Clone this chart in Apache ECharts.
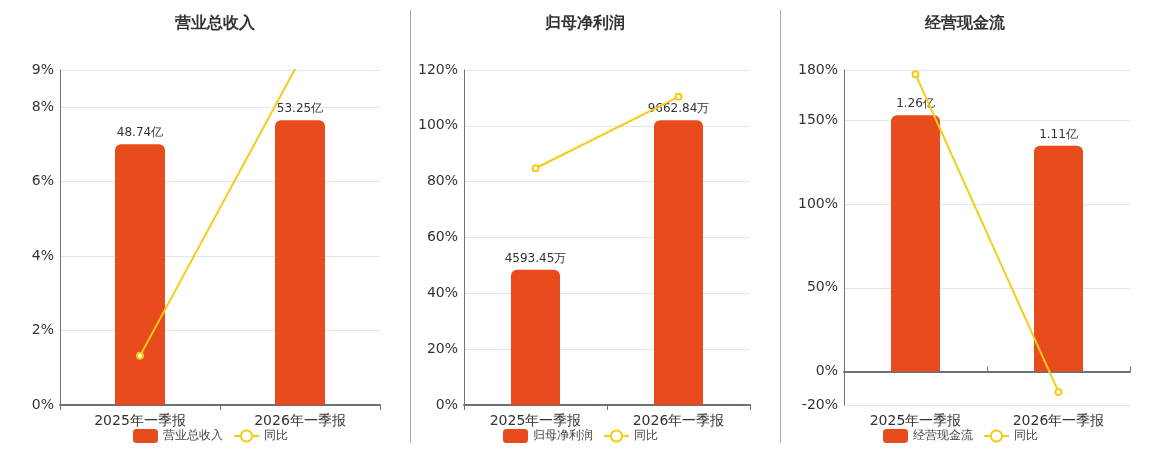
<!DOCTYPE html>
<html>
<head>
<meta charset="utf-8">
<script src="https://cdn.jsdelivr.net/npm/echarts@6/dist/echarts.min.js"></script>
<style>
html,body{margin:0;padding:0;background:#fff;}
#c{width:1160px;height:450px;}
</style>
</head>
<body>
<div id="c"></div>
<script>
const categories = ['2025年一季报', '2026年一季报'];
const titles = ['营业总收入', '归母净利润', '经营现金流'];
const barNames = ['营业总收入', '归母净利润', '经营现金流'];
const units = ['亿', '万', '亿'];
const revenue = [48.74, 53.25];
const revenueYoy = [1.32, 9.27];
const profit = [4593.45, 9662.84];
const profitYoy = [84.8, 110.4];
const cash = [1.26, 1.11];
const cashYoy = [177.4, -12.2];
const pctMin = [0, 0, -20];
const pctMax = [9, 120, 180];
const pctTicks1 = [0, 2, 4, 6, 8, 9];
const pctTicks2 = [0, 20, 40, 60, 80, 100, 120];
const pctTicks3 = [-20, 0, 50, 100, 150, 180];

const barData = [revenue, profit, cash];
const lineData = [revenueYoy, profitYoy, cashYoy];
const pctTicks = [pctTicks1, pctTicks2, pctTicks3];

const grids = [
  {left: 60, width: 320, top: 70, height: 335},
  {left: 464, width: 286, top: 70, height: 335},
  {left: 844, width: 286, top: 70, height: 335}
];
const centers = [210, 580, 960];
const legendLefts = [128, 498, 878];
const barWidths = [50, 49, 49];
const BAR = '#e84c1d';
const LINE = '#f5cc14';
const AXIS = '#6e7079';

const option = {
  animation: false,
  textStyle: {fontFamily: 'DejaVu Sans, sans-serif'},
  title: [], legend: [], grid: [], xAxis: [], yAxis: [], series: [],
  graphic: [
    {type: 'line', shape: {x1: 410.5, y1: 10, x2: 410.5, y2: 443}, style: {stroke: '#aaaaaa', lineWidth: 1}},
    {type: 'line', shape: {x1: 780.5, y1: 10, x2: 780.5, y2: 443}, style: {stroke: '#aaaaaa', lineWidth: 1}}
  ]
};

for (let i = 0; i < 3; i++) {
  option.title.push({
    text: titles[i], left: centers[i], top: 11, textAlign: 'center',
    textStyle: {fontSize: 16, fontWeight: 'bold', color: '#333'}
  });
  option.legend.push({
    left: legendLefts[i], top: 424,
    itemWidth: 25, itemHeight: 14, itemGap: 10,
    textStyle: {fontSize: 12, color: '#444'},
    data: [
      {name: barNames[i], icon: 'roundRect'},
      {name: '同比'}
    ]
  });
  option.grid.push(Object.assign({containLabel: false}, grids[i]));
  const neg = pctMin[i] < 0;
  option.xAxis.push({
    type: 'category', gridIndex: i, data: categories,
    axisLine: {show: !neg, onZero: false, lineStyle: {color: AXIS, width: 2}},
    axisTick: {show: !neg, lineStyle: {color: AXIS}},
    axisLabel: {fontSize: 14, color: '#333', margin: 9}
  });
  const maxBar = Math.max(...barData[i]) / 0.85;
  const minBar = pctMin[i] / pctMax[i] * maxBar;
  option.yAxis.push({
    type: 'value', gridIndex: i, min: pctMin[i], max: pctMax[i],
    axisLine: {show: true, lineStyle: {color: AXIS, width: 1}},
    axisTick: {show: false, customValues: pctTicks[i]},
    axisLabel: {fontSize: 14, color: '#333', margin: 6, padding: [3, 0, 0, 0],
      formatter: '{value}%', customValues: pctTicks[i]},
    splitLine: {show: true, lineStyle: {color: '#e0e6f1'}}
  });
  const barAxisIndex = option.yAxis.length;
  option.yAxis.push({
    type: 'value', gridIndex: i, min: minBar, max: maxBar, show: false,
    splitLine: {show: false}
  });
  const xIdx = option.xAxis.length - 1;
  if (neg) {
    option.xAxis.push({
      type: 'category', gridIndex: i, data: categories,
      axisLine: {show: true, onZero: true, lineStyle: {color: AXIS, width: 2}},
      axisTick: {show: true, lineStyle: {color: AXIS}},
      axisLabel: {show: false}
    });
  }
  option.series.push({
    type: 'bar', name: barNames[i], xAxisIndex: xIdx, yAxisIndex: barAxisIndex,
    data: barData[i], barWidth: barWidths[i],
    itemStyle: {color: BAR, borderRadius: [6, 6, 0, 0]},
    label: {show: true, position: 'top', fontSize: 12, color: '#333', distance: 5,
      formatter: (p) => p.value + units[i]}
  });
  option.series.push({
    type: 'line', name: '同比', xAxisIndex: xIdx, yAxisIndex: barAxisIndex - 1,
    data: lineData[i], symbol: 'emptyCircle', symbolSize: 6, clip: true,
    lineStyle: {color: LINE, width: 2}, itemStyle: {color: LINE, borderWidth: 2}, z: 5
  });
}

const chart = echarts.init(document.getElementById('c'));
chart.setOption(option);
</script>
</body>
</html>
